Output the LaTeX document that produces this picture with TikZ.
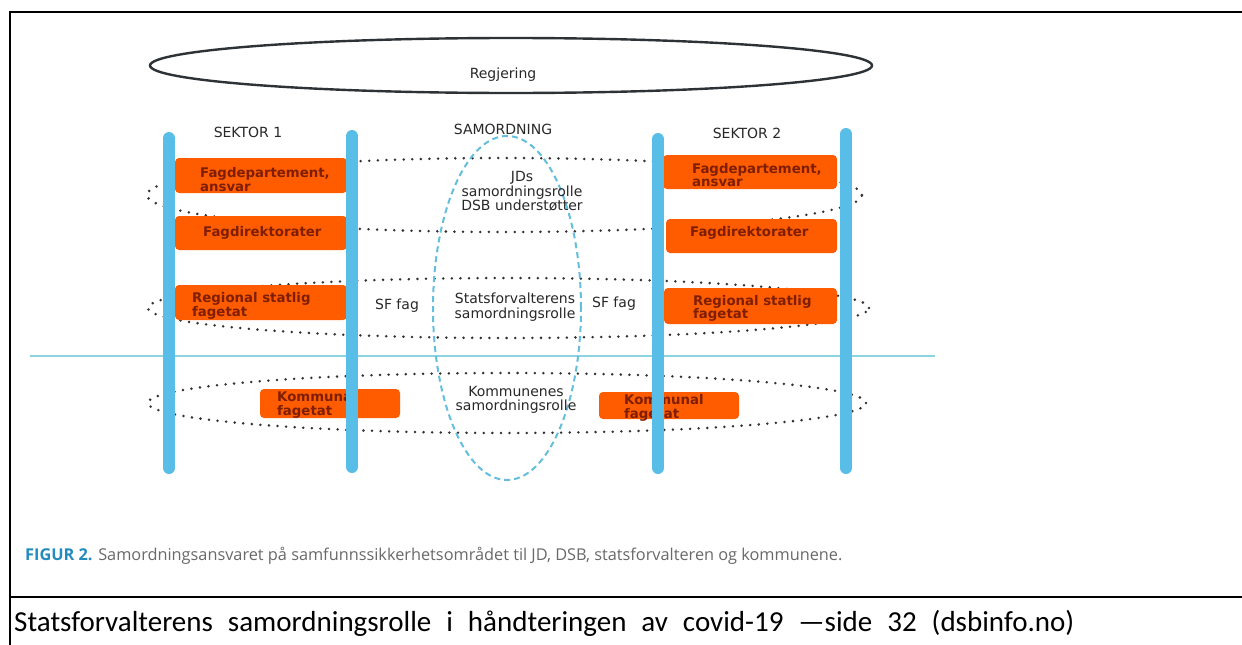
\documentclass[tikz,border=0pt]{standalone}
\usepackage{fontspec}
\setmainfont{DejaVu Sans}
\newfontfamily\calfont{Carlito}
\newfontfamily\capfont{Open Sans}
\usetikzlibrary{shapes.geometric}
\definecolor{obox}{RGB}{255,92,0}
\definecolor{boxtxt}{RGB}{125,30,5}
\definecolor{barblue}{RGB}{88,190,232}
\definecolor{dashblue}{RGB}{100,190,220}
\definecolor{hlineblue}{RGB}{140,212,224}
\definecolor{dotgray}{RGB}{50,50,50}
\definecolor{labgray}{RGB}{40,40,40}
\definecolor{figblue}{RGB}{35,140,190}
\definecolor{capgray}{RGB}{105,105,105}
\definecolor{reggray}{RGB}{45,50,55}
\begin{document}
\begin{tikzpicture}[x=1pt,y=-1pt,
  orangebox/.style={fill=obox, rounded corners=4pt, inner sep=0pt, outer sep=0pt, anchor=north west},
  boxtext/.style={text=boxtxt, font=\bfseries\fontsize{13.3}{13.5}\selectfont, align=left, anchor=west, inner sep=0pt},
  sectorbar/.style={draw=barblue, line width=12pt, line cap=round},
  dotell/.style={draw=dotgray, ellipse, line width=2.8pt, dash pattern=on 0pt off 8.6pt, line cap=round, inner sep=0pt, outer sep=0pt},
  label/.style={text=labgray, font=\fontsize{14}{14.5}\selectfont, align=center, inner sep=0pt},
  frame/.style={line width=2.5pt, black}
]
\useasboundingbox (0,0) rectangle (1242,645);
\fill[white] (0,0) rectangle (1242,645);
% frame
\draw[frame] (10,645) -- (10,12) -- (1242,12);
\draw[frame] (10,597) -- (1242,597);
% Regjering
\node[draw=reggray, line width=2.4pt, ellipse, minimum width=722pt, minimum height=55pt, inner sep=0pt] (reg) at (511,65.5) {};
\node[label] (regtxt) at (503,75) {Regjering};
% horizontal blue line
\draw[hlineblue, line width=1.6pt] (30,356) -- (935,356);
% dotted level ellipses
\node[dotell, minimum width=715pt, minimum height=74pt] (lvlA) at (504.5,195) {};
\node[dotell, minimum width=721pt, minimum height=60pt] (lvlB) at (508.5,308) {};
\node[dotell, minimum width=718pt, minimum height=60pt] (lvlC) at (507,403) {};
% samordning dashed ellipse
\node[draw=dashblue, ellipse, line width=2pt, dash pattern=on 6pt off 4pt, minimum width=148pt, minimum height=344pt, inner sep=0pt] (samell) at (507,308) {};
% boxes sector 1
\node[orangebox, minimum width=172pt, minimum height=35pt] (fd1) at (175,158) {};
\node[orangebox, minimum width=172pt, minimum height=34pt] (dir1) at (175,216) {};
\node[orangebox, minimum width=172pt, minimum height=35pt] (reg1) at (175,285) {};
\node[orangebox, minimum width=140pt, minimum height=29pt] (kom1) at (260,389) {};
% boxes sector 2
\node[orangebox, minimum width=174pt, minimum height=34pt] (fd2) at (663,155) {};
\node[orangebox, minimum width=171pt, minimum height=34pt] (dir2) at (666,219) {};
\node[orangebox, minimum width=173pt, minimum height=36pt] (reg2) at (664,288) {};
\node[orangebox, minimum width=140pt, minimum height=27pt] (kom2) at (599,392) {};
% box texts
\node[boxtext] (fd1t) at (200,179.5) {Fagdepartement,\\ansvar};
\node[boxtext] (dir1t) at (203,233) {Fagdirektorater};
\node[boxtext] (reg1t) at (192,306) {Regional statlig\\fagetat};
\node[boxtext] (kom1t) at (277,405) {Kommunal\\fagetat};
\node[boxtext] (fd2t) at (692,175) {Fagdepartement,\\ansvar};
\node[boxtext] (dir2t) at (690,233) {Fagdirektorater};
\node[boxtext] (reg2t) at (693,308.5) {Regional statlig\\fagetat};
\node[boxtext] (kom2t) at (624,408) {Kommunal\\fagetat};
% sector bars
\draw[sectorbar] (169,138) -- (169,468);
\draw[sectorbar] (352,136) -- (352,467);
\draw[sectorbar] (658,139) -- (658,468);
\draw[sectorbar] (846,134) -- (846,468);
% labels
\node[label] (s1) at (248,132) {SEKTOR 1};
\node[label] (samo) at (503,129) {SAMORDNING};
\node[label] (s2) at (747,133) {SEKTOR 2};
\node[label] (jds) at (522,191.5) {JDs\\samordningsrolle\\DSB understøtter};
\node[label] (sfrolle) at (515,307) {Statsforvalterens\\samordningsrolle};
\node[label] (komrolle) at (516,400) {Kommunenes\\samordningsrolle};
\node[label] (sf1) at (397,306) {SF fag};
\node[label] (sf2) at (614,304) {SF fag};
% caption
\node[anchor=west, inner sep=0pt, font=\capfont\fontsize{16.3}{18}\selectfont, text=capgray] (cap) at (25,556) {\textcolor{figblue}{\bfseries FIGUR 2.} Samordningsansvaret på samfunnssikkerhetsområdet til JD, DSB, statsforvalteren og kommunene.};
% source line
\node[anchor=base west, inner sep=0pt, font=\calfont\fontsize{29}{32}\selectfont] (src) at (14,631) {\spaceskip=15pt Statsforvalterens samordningsrolle i håndteringen av covid-19 —side 32 (dsbinfo.no)};
\end{tikzpicture}
\end{document}
